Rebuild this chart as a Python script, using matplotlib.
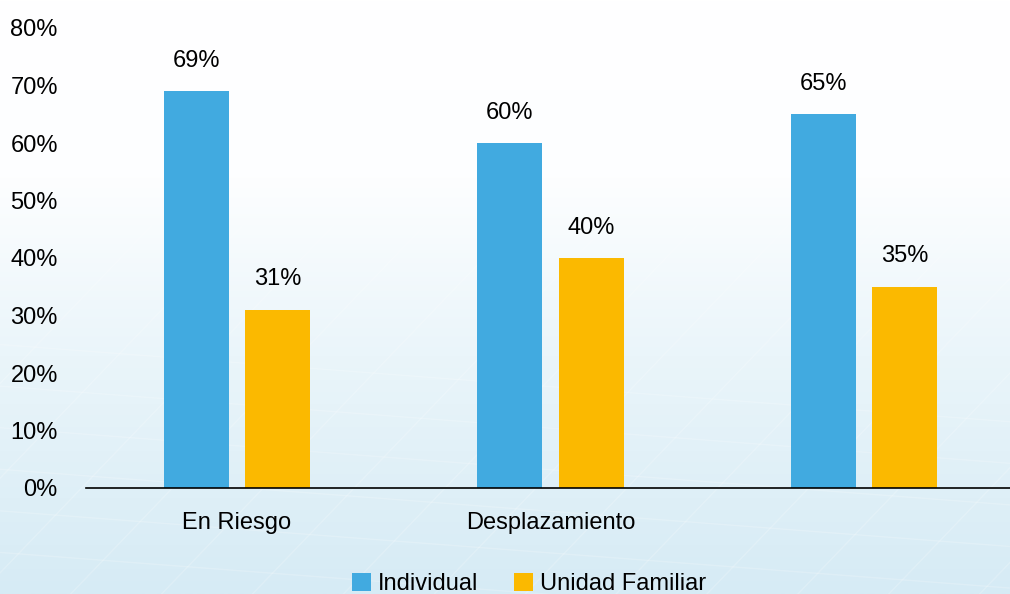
import matplotlib.pyplot as plt
import numpy as np
from matplotlib.colors import LinearSegmentedColormap

categories = ["En Riesgo", "Desplazamiento", ""]
individual = [69, 60, 65]
familiar = [31, 40, 35]
series_names = ["Individual", "Unidad Familiar"]
yticks = [0, 10, 20, 30, 40, 50, 60, 70, 80]

BLUE = "#41aae0"
ORANGE = "#fbb900"

plt.rcParams["font.family"] = ["Liberation Sans", "DejaVu Sans"]

fig = plt.figure(figsize=(10.1, 5.94), dpi=100)

# background: white at top fading to pale blue, with faint streaks
bg = fig.add_axes([0, 0, 1, 1], zorder=-1)
grad = np.linspace(0, 1, 256).reshape(-1, 1)
cmap = LinearSegmentedColormap.from_list(
    "bg", [(0, "#ffffff"), (0.3, "#fdfeff"), (0.6, "#eaf5fa"), (1, "#d6ebf5")])
bg.imshow(grad, aspect="auto", cmap=cmap, extent=[0, 1, 0, 1], origin="upper")
for x0 in np.arange(-0.2, 1.2, 0.09):
    bg.plot([x0, x0 + 0.35], [0, 0.62], color="white", lw=1, alpha=0.2)
for y0 in np.arange(0.02, 0.4, 0.07):
    bg.plot([0, 1], [y0 + 0.05, y0 - 0.08], color="white", lw=1, alpha=0.2)
bg.set_xlim(0, 1)
bg.set_ylim(0, 1)
bg.axis("off")

# axes spans x=80..1021 px, y=28..488 px
ax = fig.add_axes([80 / 1010, 106 / 594, 941 / 1010, 460 / 594])
ax.patch.set_alpha(0)

x = np.arange(len(categories))
width = 0.207
offset = 0.13
b1 = ax.bar(x - offset, individual, width, color=BLUE, label=series_names[0])
b2 = ax.bar(x + offset, familiar, width, color=ORANGE, label=series_names[1])

for bars in (b1, b2):
    for rect in bars:
        ax.annotate(f"{rect.get_height():.0f}%",
                    (rect.get_x() + rect.get_width() / 2, rect.get_height()),
                    xytext=(0, 14), textcoords="offset points",
                    ha="center", va="bottom", fontsize=17)

ax.set_xlim(-0.5, 2.5)
ax.set_ylim(0, 80)
ax.set_yticks(yticks)
ax.set_yticklabels([f"{v}%" for v in yticks])
ax.set_xticks(x)
ax.set_xticklabels(categories)
ax.tick_params(axis="y", length=0, pad=16, labelsize=17)
ax.tick_params(axis="x", length=0, pad=17, labelsize=17)
for side in ("left", "right", "top"):
    ax.spines[side].set_visible(False)
ax.spines["bottom"].set_color("black")
ax.spines["bottom"].set_linewidth(1.2)
ax.spines["bottom"].set_bounds(-0.48, 2.5)

fig.legend(handles=[b1, b2], loc="center", bbox_to_anchor=(529 / 1010, 10 / 594),
           ncol=2, frameon=False, fontsize=17, handlelength=0.8, handleheight=0.8,
           handletextpad=0.3, columnspacing=1.5)

fig.savefig("out.png", dpi=100)
